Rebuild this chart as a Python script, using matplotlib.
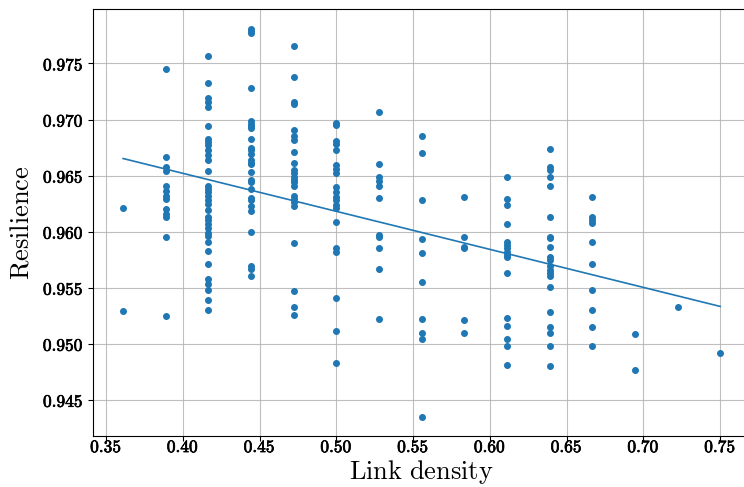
import numpy as np
import matplotlib
matplotlib.use("Agg")
import matplotlib.pyplot as plt
import matplotlib.patheffects as pe
from matplotlib.ticker import FuncFormatter

plt.rcParams['mathtext.fontset'] = 'cm'

# link density levels (k/36) and the resilience values read at each level
density_levels = [13/36, 14/36, 15/36, 16/36, 17/36, 18/36, 19/36, 20/36,
                  21/36, 22/36, 23/36, 24/36, 25/36, 26/36, 27/36]

res_0361 = [0.9621, 0.9529]
res_0389 = [0.9745, 0.9667, 0.9658, 0.9654, 0.9641, 0.9636, 0.9632, 0.9629,
            0.9620, 0.9616, 0.9613, 0.9595, 0.9525]
res_0417 = [0.9757, 0.9733, 0.9719, 0.9716, 0.9711, 0.9694, 0.9683, 0.9680,
            0.9677, 0.9673, 0.9668, 0.9664, 0.9654, 0.9641, 0.9638, 0.9635,
            0.9632, 0.9628, 0.9625, 0.9619, 0.9613, 0.9610, 0.9607, 0.9603,
            0.9599, 0.9596, 0.9591, 0.9583, 0.9571, 0.9558, 0.9553, 0.9548,
            0.9539, 0.9530]
res_0444 = [0.9781, 0.9779, 0.9777, 0.9728, 0.9699, 0.9696, 0.9694, 0.9692,
            0.9683, 0.9675, 0.9673, 0.9669, 0.9664, 0.9661, 0.9660, 0.9653,
            0.9646, 0.9644, 0.9638, 0.9630, 0.9628, 0.9623, 0.9618, 0.9600,
            0.9569, 0.9567, 0.9560]
res_0472 = [0.9766, 0.9738, 0.9716, 0.9714, 0.9691, 0.9685, 0.9682, 0.9671,
            0.9661, 0.9655, 0.9652, 0.9649, 0.9646, 0.9644, 0.9641, 0.9632,
            0.9629, 0.9626, 0.9623, 0.9590, 0.9547, 0.9533, 0.9526]
res_0500 = [0.9697, 0.9695, 0.9681, 0.9678, 0.9673, 0.9659, 0.9656, 0.9652,
            0.9640, 0.9635, 0.9631, 0.9628, 0.9624, 0.9621, 0.9609, 0.9585,
            0.9582, 0.9541, 0.9511, 0.9483]
res_0528 = [0.9707, 0.9660, 0.9649, 0.9645, 0.9641, 0.9630, 0.9597, 0.9595,
            0.9585, 0.9567, 0.9522]
res_0556 = [0.9685, 0.9670, 0.9628, 0.9593, 0.9581, 0.9555, 0.9522, 0.9510,
            0.9504, 0.9435]
res_0583 = [0.9631, 0.9595, 0.9586, 0.9585, 0.9521, 0.9510]
res_0611 = [0.9649, 0.9629, 0.9624, 0.9607, 0.9591, 0.9588, 0.9585, 0.9582,
            0.9579, 0.9577, 0.9563, 0.9523, 0.9516, 0.9504, 0.9498, 0.9481]
res_0639 = [0.9674, 0.9658, 0.9655, 0.9649, 0.9641, 0.9613, 0.9595, 0.9594,
            0.9586, 0.9577, 0.9575, 0.9569, 0.9566, 0.9563, 0.9560, 0.9551,
            0.9528, 0.9515, 0.9510, 0.9498, 0.9480]
res_0667 = [0.9631, 0.9613, 0.9610, 0.9608, 0.9591, 0.9571, 0.9548, 0.9530,
            0.9515, 0.9498]
res_0694 = [0.9509, 0.9477]
res_0722 = [0.9533]
res_0750 = [0.9492]

groups = [res_0361, res_0389, res_0417, res_0444, res_0472, res_0500, res_0528,
          res_0556, res_0583, res_0611, res_0639, res_0667, res_0694, res_0722,
          res_0750]

x = np.concatenate([[d] * len(g) for d, g in zip(density_levels, groups)])
y = np.concatenate(groups)

# least squares line through the points
slope, intercept = np.polyfit(x, y, 1)

fig = plt.figure(figsize=(7.44, 4.87), dpi=100)
ax = fig.add_axes([0.1254, 0.1047, 0.8827, 0.8762])
ax.set_axisbelow(True)
ax.grid(True, color='#b0b0b0', linewidth=0.8, alpha=0.8)

ax.scatter(x, y, s=16, color='#1f77b4', zorder=3)
ax.plot(x, slope * x + intercept, color='#1f77b4', linewidth=1.2, zorder=3)

ax.set_xticks(np.arange(0.35, 0.751, 0.05))
ax.set_yticks(np.arange(0.945, 0.9751, 0.005))
ax.xaxis.set_major_formatter(FuncFormatter(lambda v, p: r'$\mathbf{%.2f}$' % v))
ax.yaxis.set_major_formatter(FuncFormatter(lambda v, p: r'$\mathbf{%.3f}$' % v))
ax.tick_params(labelsize=12.5)
ax.tick_params(axis='x', pad=-2)
# thicken the digits a bit, like bold extended
for lab in ax.get_xticklabels() + ax.get_yticklabels():
    lab.set_path_effects([pe.withStroke(linewidth=0.5, foreground='black')])

ax.set_xlabel(r'$\mathrm{Link\ density}$', fontsize=19)
ax.xaxis.set_label_coords(0.5, -0.052)
ax.set_ylabel(r'$\mathrm{Resilience}$', fontsize=19, labelpad=6)

fig.savefig('out.png', dpi=100)
